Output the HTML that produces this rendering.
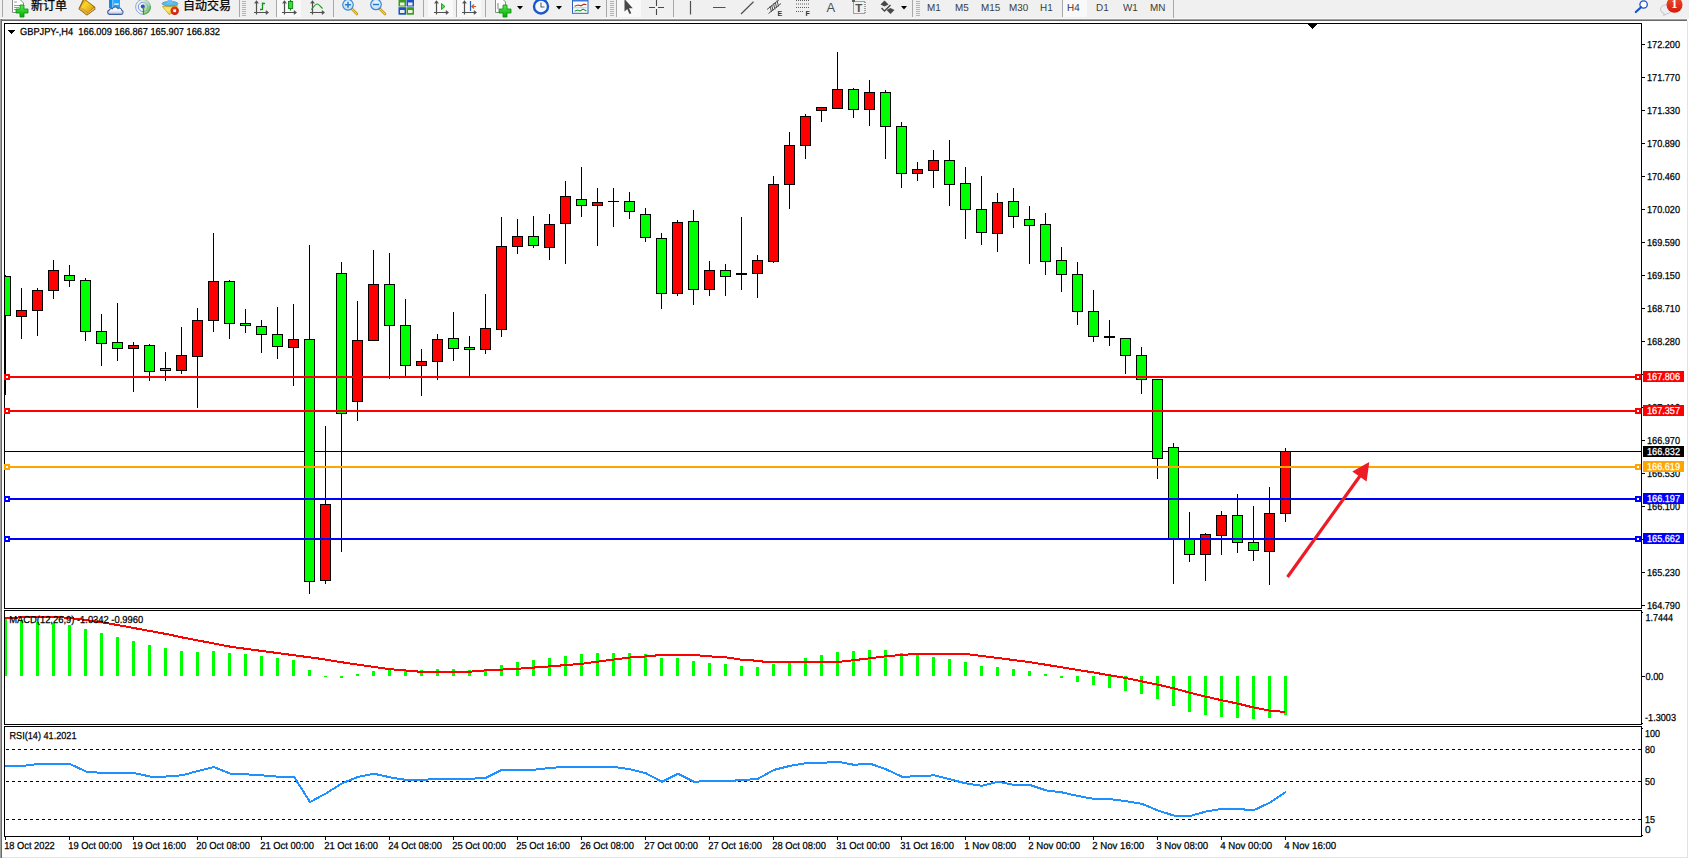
<!DOCTYPE html>
<html lang="zh-CN">
<head>
<meta charset="utf-8">
<title>GBPJPY-,H4</title>
<style>
html,body{margin:0;padding:0;background:#fff;}
body{width:1689px;height:859px;overflow:hidden;position:relative;font-family:"Liberation Sans","Noto Sans CJK SC",sans-serif;}
.chart{position:absolute;left:0;top:0;display:block;}
.tb{position:absolute;left:0;top:0;width:1689px;height:19px;background:#f0f0f0;overflow:hidden;}
.tbline{position:absolute;left:0;top:18px;width:1687px;height:3px;background:linear-gradient(#f8f8f8 0 1px,#a0a0a0 1px 2px,#696969 2px 3px);}
.lb{position:absolute;left:0;top:19px;width:2px;height:839px;background:linear-gradient(90deg,#a0a0a0 50%,#696969 50%);}
.rb{position:absolute;left:1687px;top:21px;width:1px;height:837px;background:#e3e3e3;}
.bb{position:absolute;left:2px;top:857px;width:1686px;height:1px;background:#e3e3e3;}
.tb .cj{position:absolute;top:-2.5px;font-size:12px;line-height:16px;color:#000;white-space:nowrap;-webkit-text-stroke:0.25px #000;}
.tb .tf{position:absolute;top:1.8px;font-size:10.2px;line-height:14px;color:#3c3c3c;white-space:nowrap;text-rendering:geometricPrecision;transform:scaleX(0.97);transform-origin:0 0;margin-left:-0.6px;}
.tb .sep{position:absolute;top:0;width:1px;height:17px;background:#a0a0a0;}
.tb .grip{position:absolute;top:0;width:4px;height:16px;background:repeating-linear-gradient(#f0f0f0 0 1px,#b0b0b0 1px 2px);}
.tb .sel{position:absolute;top:0;height:17px;background:#f8f8f8;}
.tb svg{position:absolute;left:0;top:0;}
</style>
</head>
<body>
<div class="tb">
<svg width="1689" height="19" viewBox="0 0 1689 19">
<defs>
<linearGradient id="gGold" x1="0" y1="0" x2="1" y2="1"><stop offset="0" stop-color="#c98e12"/><stop offset="0.350" stop-color="#f9d62c"/><stop offset="0.700" stop-color="#e8b216"/><stop offset="1" stop-color="#c48a10"/></linearGradient>
<linearGradient id="gGreen" x1="0" y1="0" x2="0" y2="1"><stop offset="0" stop-color="#4cf04c"/><stop offset="1" stop-color="#0aa80a"/></linearGradient>
<linearGradient id="gBlue" x1="0" y1="0" x2="0" y2="1"><stop offset="0" stop-color="#4aa0ff"/><stop offset="1" stop-color="#0a5ad8"/></linearGradient>
<linearGradient id="gRed" x1="0" y1="0" x2="0" y2="1"><stop offset="0" stop-color="#e85030"/><stop offset="1" stop-color="#d81808"/></linearGradient>
<radialGradient id="gLens" cx="0.5" cy="0.4" r="0.6"><stop offset="0" stop-color="#f4fbff"/><stop offset="1" stop-color="#b4d8f4"/></radialGradient>
<linearGradient id="gCloud" x1="0" y1="0" x2="0" y2="1"><stop offset="0" stop-color="#ffffff"/><stop offset="0.500" stop-color="#f0f3f9"/><stop offset="1" stop-color="#b4c0da"/></linearGradient>
<linearGradient id="gSig" x1="0" y1="0" x2="1" y2="1"><stop offset="0" stop-color="#e6efe0"/><stop offset="0.500" stop-color="#b4d8a8"/><stop offset="1" stop-color="#4aa850"/></linearGradient>
<linearGradient id="gFace" x1="0" y1="0" x2="0" y2="1"><stop offset="0" stop-color="#f4d030"/><stop offset="0.500" stop-color="#ffec70"/><stop offset="1" stop-color="#e8b820"/></linearGradient>
<radialGradient id="gStop" cx="0.400" cy="0.350" r="0.700"><stop offset="0" stop-color="#f04020"/><stop offset="1" stop-color="#c81c08"/></radialGradient>
</defs>
<!-- selected backgrounds -->
<g fill="#f9f9f9"><rect x="277" y="0" width="24" height="17"/><rect x="428" y="0" width="25" height="17"/><rect x="457" y="0" width="24" height="17"/><rect x="617" y="0" width="24" height="17"/><rect x="1063" y="0" width="24" height="17"/></g>
<!-- separators -->
<g fill="#a8a8a8"><rect x="2" y="0" width="1" height="17"/><rect x="239" y="0" width="1" height="17"/><rect x="276" y="0" width="1" height="17"/><rect x="333" y="0" width="1" height="17"/><rect x="423" y="0" width="1" height="17"/><rect x="456" y="0" width="1" height="17"/><rect x="485" y="0" width="1" height="17"/><rect x="606" y="0" width="1" height="17"/><rect x="616" y="0" width="1" height="17"/><rect x="673" y="0" width="1" height="17"/><rect x="912" y="0" width="1" height="17"/><rect x="1062" y="0" width="1" height="17"/><rect x="1173" y="0" width="1" height="18"/></g>
<!-- grips -->
<g fill="#b4b4b4">
<path d="M242 1h4v1h-4zM242 3h4v1h-4zM242 5h4v1h-4zM242 7h4v1h-4zM242 9h4v1h-4zM242 11h4v1h-4zM242 13h4v1h-4zM242 15h4v1h-4z"/>
<path d="M610 1h4v1h-4zM610 3h4v1h-4zM610 5h4v1h-4zM610 7h4v1h-4zM610 9h4v1h-4zM610 11h4v1h-4zM610 13h4v1h-4zM610 15h4v1h-4z"/>
<path d="M916 1h4v1h-4zM916 3h4v1h-4zM916 5h4v1h-4zM916 7h4v1h-4zM916 9h4v1h-4zM916 11h4v1h-4zM916 13h4v1h-4zM916 15h4v1h-4z"/>
</g>
<!-- new order -->
<path d="M12.5 -1V12.5H23.5V3L20.5 0V-1Z" fill="#fff" stroke="#8a8a8a"/>
<path d="M14 2h3M14 5.5h6M14 7.5h5M14 9.500h3" stroke="#9a9a9a" stroke-width="1"/>
<path d="M20 5h4v4h4v4h-4v4h-4v-4h-4v-4h4z" fill="url(#gGreen)" stroke="#0a8a0a" stroke-width="0.8"/>
<!-- book -->
<path d="M83.800 -1L94.600 7.300L94.900 9L86.800 14.900L79.100 8.700Z" fill="#b87c10" stroke="#96600a" stroke-width="1.200" stroke-linejoin="round"/>
<path d="M86.800 14.700L94.700 9L94.400 7.700L87.700 13Z" fill="#dccb88"/>
<path d="M79.300 8.700L86.800 14.700L87.700 13L80.500 7.300Z" fill="#e2b040"/>
<path d="M84.300 -0.500L93.900 6.900L87.900 12.500L80.700 7.200Z" fill="url(#gGold)"/>
<!-- cloud server -->
<path d="M109 -1H112.800V8H109Z" fill="#0a8cf0"/>
<path d="M112.800 -1H120V8H112.800Z" fill="#22a6ff"/>
<path d="M112.800 -1V8" stroke="#bfe4ff" stroke-width="0.700"/>
<rect x="114.200" y="3.400" width="4.600" height="1.400" fill="#e8f6ff"/>
<path d="M109.600 14.400a2.200 2.200 0 0 1 -0.400 -4.300a2.200 2.200 0 0 1 3.100 -1.300a3.100 3.100 0 0 1 5.600 -0.300a2.400 2.400 0 0 1 3.800 1.700a2.200 2.200 0 0 1 -0.500 4.200z" fill="url(#gCloud)" stroke="#3f5c9c" stroke-width="1.100"/>
<!-- signal -->
<circle cx="143" cy="6.900" r="7.600" fill="#f3f3ea"/>
<path d="M143 6.900L143 -0.700A7.600 7.600 0 0 1 143.400 14.500Z" fill="url(#gSig)"/>
<g fill="none">
<path d="M143 -0.500A7.400 7.400 0 0 0 143 14.300" stroke="#5a80dc" stroke-width="0.900" opacity="0.750"/>
<path d="M143 2.200A4.700 4.700 0 0 0 143 11.600" stroke="#5a80dc" stroke-width="1" opacity="0.800"/>
<path d="M143 -0.500A7.400 7.400 0 0 1 150.400 6.900" stroke="#7aa0c8" stroke-width="0.900" opacity="0.500"/>
<path d="M143 2.200A4.700 4.700 0 0 1 147.700 6.900A4.700 4.700 0 0 1 143.500 11.600" stroke="#6a9cb0" stroke-width="1" opacity="0.550"/>
<path d="M143.400 14.400A7.500 7.500 0 0 0 150.400 6" stroke="#2f9a3a" stroke-width="1.100" opacity="0.700"/>
</g>
<circle cx="142.800" cy="6.600" r="2" fill="#2454d4"/>
<path d="M143.500 7V14.600" stroke="#1fa01f" stroke-width="1.300"/>
<!-- hat / expert stop -->
<path d="M162.400 6.600L177.600 5.800L173 12L169.300 14.700Z" fill="url(#gFace)" stroke="#c89810" stroke-width="0.700"/>
<ellipse cx="170" cy="3.700" rx="7.900" ry="2.300" fill="#62b8ea" stroke="#2a8cbc" stroke-width="0.700"/><path d="M166.600 3.200C167.200 1.500 167.800 0 168.200 -1H171.600C172 0 172.600 1.500 173.200 3.200C171 4 168.800 4 166.600 3.200Z" fill="#6cc0ee"/>
<circle cx="174.700" cy="10.700" r="4.200" fill="url(#gStop)"/>
<rect x="173.300" y="9.300" width="2.800" height="2.800" fill="#fff"/>
<!-- bar chart icon -->
<g stroke="#505050" stroke-width="1.200" fill="none"><path d="M256.500 1.500V14.500M254 12.500H267.500"/><path d="M254.700 3.500L256.500 1.200L258.300 3.500M265.800 10.800L268 12.500L265.800 14.200"/></g>
<path d="M262.500 2.500V10M262.500 3.500H265M260 9.500H262.500" stroke="#18901c" stroke-width="1.300" fill="none"/>
<!-- candle chart icon -->
<g stroke="#505050" stroke-width="1.200" fill="none"><path d="M284.500 1.500V14.500M282 12.500H295.500"/><path d="M282.700 3.500L284.500 1.200L286.300 3.500M293.800 10.800L296 12.500L293.800 14.200"/></g>
<path d="M290.500 -1V10.500" stroke="#108414" stroke-width="1.200"/><rect x="288.500" y="1.500" width="4.200" height="7" fill="#30e040" stroke="#108414" stroke-width="0.900"/>
<!-- line chart icon -->
<g stroke="#505050" stroke-width="1.200" fill="none"><path d="M312.500 1.500V14.500M310 12.500H323.500"/><path d="M310.700 3.500L312.500 1.200L314.300 3.500M321.800 10.800L324 12.500L321.800 14.200"/></g>
<path d="M311.400 9.600C314 6 316 3.800 317.500 4S321 7.500 322.600 8.500" stroke="#209824" stroke-width="1.200" fill="none"/>
<!-- zoom in / out -->
<path d="M352 9L357 14" stroke="#c8a020" stroke-width="2.600" stroke-linecap="round"/><path d="M352 9L357 14" stroke="#f0d860" stroke-width="1" stroke-linecap="round"/>
<circle cx="348" cy="4.800" r="5.300" fill="url(#gLens)" stroke="#3a84d0" stroke-width="1.100"/>
<path d="M345 4.800H351M348 1.800V7.800" stroke="#2a78c8" stroke-width="1.500"/>
<path d="M380 9L385 14" stroke="#c8a020" stroke-width="2.600" stroke-linecap="round"/><path d="M380 9L385 14" stroke="#f0d860" stroke-width="1" stroke-linecap="round"/>
<circle cx="376" cy="4.500" r="5.300" fill="url(#gLens)" stroke="#3a84d0" stroke-width="1.100"/>
<path d="M373 4.500H379" stroke="#2a78c8" stroke-width="1.500"/>
<!-- tile windows -->
<rect x="398.500" y="-1" width="7.500" height="7.500" fill="#3c9c20"/><rect x="406.500" y="-1" width="7.500" height="7.500" fill="#1c50d0"/>
<rect x="398.500" y="7.200" width="7.500" height="7.500" fill="#1c50d0"/><rect x="406.500" y="7.200" width="7.500" height="7.500" fill="#3c9c20"/>
<g fill="#e8f4e0"><rect x="400" y="2.500" width="4.500" height="3"/><rect x="408" y="2.500" width="4.500" height="3"/><rect x="400" y="10" width="4.500" height="3"/><rect x="408" y="10" width="4.500" height="3"/></g>
<!-- autoscroll -->
<g stroke="#505050" stroke-width="1.200" fill="none"><path d="M436.500 1.500V14.500M434 12.500H447.500"/><path d="M434.700 3.500L436.500 1.200L438.300 3.500M445.800 10.800L448 12.500L445.800 14.200"/></g>
<path d="M441.500 3.500L445 6.500L441.500 9.500Z" fill="#50e050" stroke="#189820" stroke-width="0.900"/>
<!-- chart shift -->
<g stroke="#505050" stroke-width="1.200" fill="none"><path d="M464.500 1.500V14.500M462 12.500H475.500"/><path d="M462.700 3.500L464.500 1.200L466.300 3.500M473.800 10.800L476 12.500L473.800 14.200"/></g>
<path d="M470.500 1V11" stroke="#2060c0" stroke-width="1.200"/><path d="M476 6.500H472M474 4.500L471.800 6.500L474 8.500" stroke="#e05810" stroke-width="1.200" fill="none"/>
<!-- new indicator -->
<path d="M495.500 -1V12.500H505.500V2L503 -0.500Z" fill="#fff" stroke="#8a8a8a"/>
<path d="M498 3v6" stroke="#808080" stroke-width="1"/>
<path d="M503 5h4v4h4v4h-4v4h-4v-4h-4v-4h4z" fill="url(#gGreen)" stroke="#0a8a0a" stroke-width="0.800"/>
<!-- dropdown arrows -->
<g fill="#000"><path d="M517 6h6l-3 3.500z"/><path d="M556 6h6l-3 3.500z"/><path d="M595 6h6l-3 3.500z"/><path d="M901 6h6l-3 3.500z"/></g>
<!-- clock -->
<circle cx="541" cy="6.500" r="7" fill="#f4f8ff" stroke="#1c58c8" stroke-width="2.400"/>
<path d="M541 2.500V7H544.500" stroke="#606060" stroke-width="1.100" fill="none"/>
<!-- template -->
<rect x="572.500" y="-1" width="15.500" height="14.300" fill="#fff" stroke="#2860c8" stroke-width="1"/>
<rect x="572.500" y="-1" width="15.500" height="2.500" fill="#3c78d8"/>
<path d="M574.500 6.200L578 5L581 5.800L584 4.200L586.500 4.800" stroke="#b83020" stroke-width="1.100" fill="none"/>
<path d="M574.500 11.200L577.500 10L580 11L583 9.200L586.500 11" stroke="#209830" stroke-width="1.100" fill="none"/>
<path d="M573 7.800H588" stroke="#9cb8e8" stroke-width="0.800"/>
<!-- cursor -->
<path d="M624.500 -1V11.500L627.200 9L629.500 14L631.300 13.200L629 8.300H632.800Z" fill="#484848"/>
<!-- crosshair -->
<path d="M656.500 0V6M656.500 9V15M649 7.500H655M658 7.500H664" stroke="#484848" stroke-width="1.100"/>
<!-- line tools -->
<path d="M690.500 1V14.500M713 7.500H725.500" stroke="#505050" stroke-width="1.200"/>
<path d="M741 14L753.500 1.800" stroke="#505050" stroke-width="1.200"/>
<!-- channel -->
<g stroke="#505050" stroke-width="1" fill="none"><path d="M767 9.500L780 -1M768.500 13.500L781 3.500"/><path d="M770 6L771.500 12M773.500 3.500L775 9.500M777 0.500L778.500 6.500M771.700 5L773 10.700M775.200 2L776.700 8"/></g>
<!-- fibo -->
<g stroke="#606060" stroke-width="1" stroke-dasharray="1 1"><path d="M796 0.500H810M796 4H810M796 7.500H810M796 11.500H804"/></g>
<!-- T label box -->
<rect x="853.500" y="1.500" width="11.500" height="12" fill="none" stroke="#505050" stroke-width="1" stroke-dasharray="1 1"/>
<rect x="852" y="0" width="3" height="2" fill="#606060"/>
<!-- arrows icon -->
<g fill="#484848"><path d="M880.500 4.500L884.500 0.500L888.500 4.500L884.500 6.500Z"/><path d="M886.500 10L890.500 8L894.500 10L890.500 14Z"/><path d="M882 7.500L884.500 10L890 4.500L891 5.500L884.500 12L881 8.500Z"/></g>
<!-- search -->
<circle cx="1643.600" cy="4.500" r="3.700" fill="#fff" stroke="#1c50c8" stroke-width="1.300"/>
<path d="M1641 7.200L1635.800 12" stroke="#1c50c8" stroke-width="2.200" stroke-linecap="round"/>
<!-- bubble + badge -->
<path d="M1660.500 9.500a5.500 4.500 0 1 1 6.500 4.300l-3.400 1.700l0.600-2a5.500 4.500 0 0 1-3.700-4z" fill="#eceef4" stroke="#b8b8b8" stroke-width="0.800"/>
<circle cx="1674.500" cy="4.800" r="8" fill="url(#gRed)"/>
<text x="1671.300" y="8" font-family="'Liberation Serif', serif" font-weight="bold" font-size="12.500" fill="#fff">1</text>
<!-- letters in icons -->
<g font-family="'Liberation Sans', sans-serif" fill="#505050">
<text x="777.500" y="16" font-size="7" font-weight="bold" fill="#303030">E</text>
<text x="805.500" y="16" font-size="7" font-weight="bold" fill="#303030">F</text>
<text x="826.500" y="12" font-size="13">A</text>
<text x="855.300" y="12" font-size="11.500" font-weight="bold">T</text>
</g>
</svg>
<span class="cj" style="left:31px">新订单</span>
<span class="cj" style="left:183px">自动交易</span>
<span class="tf" style="left:927.5px">M1</span>
<span class="tf" style="left:955.5px">M5</span>
<span class="tf" style="left:981.5px">M15</span>
<span class="tf" style="left:1009.5px">M30</span>
<span class="tf" style="left:1040.5px">H1</span>
<span class="tf" style="left:1067.5px">H4</span>
<span class="tf" style="left:1096.5px">D1</span>
<span class="tf" style="left:1124px">W1</span>
<span class="tf" style="left:1150.5px">MN</span>

</div>
<div class="tbline"></div>
<div class="lb"></div>
<div class="rb"></div>
<div class="bb"></div>
<svg class="chart" width="1689" height="859" viewBox="0 0 1689 859" shape-rendering="crispEdges" font-family="'Liberation Sans', sans-serif" stroke-width="0.25" text-rendering="geometricPrecision">
<g fill="#000">
<rect x="4" y="23" width="1638" height="1" fill="#000"/>
<rect x="4" y="23" width="1" height="814" fill="#000"/>
<rect x="1641" y="23" width="1" height="814" fill="#000"/>
<rect x="4" y="608" width="1638" height="1" fill="#000"/>
<rect x="4" y="610" width="1638" height="1" fill="#000"/>
<rect x="4" y="724" width="1638" height="1" fill="#000"/>
<rect x="4" y="726" width="1638" height="1" fill="#000"/>
<rect x="4" y="836" width="1638" height="1" fill="#000"/>
</g>
<rect x="4" y="609" width="1639" height="1" fill="#fff"/>
<rect x="4" y="725" width="1639" height="1" fill="#fff"/>
<rect x="5" y="451" width="1636" height="1" fill="#000"/>
<g>
<rect x="5" y="275" width="1" height="120" fill="#000"/>
<rect x="5" y="276" width="6" height="40" fill="#000"/>
<rect x="5" y="277" width="5" height="38" fill="#00ff00"/>
<rect x="21" y="288" width="1" height="51" fill="#000"/>
<rect x="16" y="310" width="11" height="7" fill="#000"/>
<rect x="17" y="311" width="9" height="5" fill="#ff0000"/>
<rect x="37" y="288" width="1" height="48" fill="#000"/>
<rect x="32" y="290" width="11" height="21" fill="#000"/>
<rect x="33" y="291" width="9" height="19" fill="#ff0000"/>
<rect x="53" y="260" width="1" height="39" fill="#000"/>
<rect x="48" y="270" width="11" height="21" fill="#000"/>
<rect x="49" y="271" width="9" height="19" fill="#ff0000"/>
<rect x="69" y="265" width="1" height="22" fill="#000"/>
<rect x="64" y="275" width="11" height="6" fill="#000"/>
<rect x="65" y="276" width="9" height="4" fill="#00ff00"/>
<rect x="85" y="278" width="1" height="63" fill="#000"/>
<rect x="80" y="280" width="11" height="52" fill="#000"/>
<rect x="81" y="281" width="9" height="50" fill="#00ff00"/>
<rect x="101" y="314" width="1" height="52" fill="#000"/>
<rect x="96" y="331" width="11" height="13" fill="#000"/>
<rect x="97" y="332" width="9" height="11" fill="#00ff00"/>
<rect x="117" y="303" width="1" height="58" fill="#000"/>
<rect x="112" y="342" width="11" height="7" fill="#000"/>
<rect x="113" y="343" width="9" height="5" fill="#00ff00"/>
<rect x="133" y="342" width="1" height="50" fill="#000"/>
<rect x="128" y="345" width="11" height="4" fill="#000"/>
<rect x="129" y="346" width="9" height="2" fill="#ff0000"/>
<rect x="149" y="344" width="1" height="37" fill="#000"/>
<rect x="144" y="345" width="11" height="27" fill="#000"/>
<rect x="145" y="346" width="9" height="25" fill="#00ff00"/>
<rect x="165" y="352" width="1" height="29" fill="#000"/>
<rect x="160" y="368" width="11" height="3" fill="#000"/>
<rect x="161" y="369" width="9" height="1" fill="#00ff00"/>
<rect x="181" y="327" width="1" height="47" fill="#000"/>
<rect x="176" y="355" width="11" height="16" fill="#000"/>
<rect x="177" y="356" width="9" height="14" fill="#ff0000"/>
<rect x="197" y="308" width="1" height="100" fill="#000"/>
<rect x="192" y="320" width="11" height="37" fill="#000"/>
<rect x="193" y="321" width="9" height="35" fill="#ff0000"/>
<rect x="213" y="233" width="1" height="99" fill="#000"/>
<rect x="208" y="281" width="11" height="40" fill="#000"/>
<rect x="209" y="282" width="9" height="38" fill="#ff0000"/>
<rect x="229" y="280" width="1" height="59" fill="#000"/>
<rect x="224" y="281" width="11" height="43" fill="#000"/>
<rect x="225" y="282" width="9" height="41" fill="#00ff00"/>
<rect x="245" y="309" width="1" height="24" fill="#000"/>
<rect x="240" y="323" width="11" height="3" fill="#000"/>
<rect x="241" y="324" width="9" height="1" fill="#00ff00"/>
<rect x="261" y="320" width="1" height="33" fill="#000"/>
<rect x="256" y="326" width="11" height="9" fill="#000"/>
<rect x="257" y="327" width="9" height="7" fill="#00ff00"/>
<rect x="277" y="307" width="1" height="52" fill="#000"/>
<rect x="272" y="334" width="11" height="13" fill="#000"/>
<rect x="273" y="335" width="9" height="11" fill="#00ff00"/>
<rect x="293" y="304" width="1" height="82" fill="#000"/>
<rect x="288" y="339" width="11" height="9" fill="#000"/>
<rect x="289" y="340" width="9" height="7" fill="#ff0000"/>
<rect x="309" y="245" width="1" height="349" fill="#000"/>
<rect x="304" y="339" width="11" height="243" fill="#000"/>
<rect x="305" y="340" width="9" height="241" fill="#00ff00"/>
<rect x="325" y="426" width="1" height="158" fill="#000"/>
<rect x="320" y="504" width="11" height="77" fill="#000"/>
<rect x="321" y="505" width="9" height="75" fill="#ff0000"/>
<rect x="341" y="262" width="1" height="290" fill="#000"/>
<rect x="336" y="273" width="11" height="141" fill="#000"/>
<rect x="337" y="274" width="9" height="139" fill="#00ff00"/>
<rect x="357" y="301" width="1" height="120" fill="#000"/>
<rect x="352" y="340" width="11" height="62" fill="#000"/>
<rect x="353" y="341" width="9" height="60" fill="#ff0000"/>
<rect x="373" y="250" width="1" height="91" fill="#000"/>
<rect x="368" y="284" width="11" height="57" fill="#000"/>
<rect x="369" y="285" width="9" height="55" fill="#ff0000"/>
<rect x="389" y="253" width="1" height="126" fill="#000"/>
<rect x="384" y="284" width="11" height="42" fill="#000"/>
<rect x="385" y="285" width="9" height="40" fill="#00ff00"/>
<rect x="405" y="299" width="1" height="77" fill="#000"/>
<rect x="400" y="325" width="11" height="41" fill="#000"/>
<rect x="401" y="326" width="9" height="39" fill="#00ff00"/>
<rect x="421" y="349" width="1" height="47" fill="#000"/>
<rect x="416" y="361" width="11" height="5" fill="#000"/>
<rect x="417" y="362" width="9" height="3" fill="#ff0000"/>
<rect x="437" y="334" width="1" height="46" fill="#000"/>
<rect x="432" y="339" width="11" height="23" fill="#000"/>
<rect x="433" y="340" width="9" height="21" fill="#ff0000"/>
<rect x="453" y="312" width="1" height="49" fill="#000"/>
<rect x="448" y="338" width="11" height="11" fill="#000"/>
<rect x="449" y="339" width="9" height="9" fill="#00ff00"/>
<rect x="469" y="336" width="1" height="41" fill="#000"/>
<rect x="464" y="347" width="11" height="3" fill="#000"/>
<rect x="465" y="348" width="9" height="1" fill="#00ff00"/>
<rect x="485" y="294" width="1" height="60" fill="#000"/>
<rect x="480" y="328" width="11" height="22" fill="#000"/>
<rect x="481" y="329" width="9" height="20" fill="#ff0000"/>
<rect x="501" y="217" width="1" height="120" fill="#000"/>
<rect x="496" y="246" width="11" height="84" fill="#000"/>
<rect x="497" y="247" width="9" height="82" fill="#ff0000"/>
<rect x="517" y="219" width="1" height="35" fill="#000"/>
<rect x="512" y="236" width="11" height="11" fill="#000"/>
<rect x="513" y="237" width="9" height="9" fill="#ff0000"/>
<rect x="533" y="216" width="1" height="32" fill="#000"/>
<rect x="528" y="236" width="11" height="10" fill="#000"/>
<rect x="529" y="237" width="9" height="8" fill="#00ff00"/>
<rect x="549" y="214" width="1" height="46" fill="#000"/>
<rect x="544" y="224" width="11" height="24" fill="#000"/>
<rect x="545" y="225" width="9" height="22" fill="#ff0000"/>
<rect x="565" y="181" width="1" height="83" fill="#000"/>
<rect x="560" y="196" width="11" height="28" fill="#000"/>
<rect x="561" y="197" width="9" height="26" fill="#ff0000"/>
<rect x="581" y="167" width="1" height="50" fill="#000"/>
<rect x="576" y="199" width="11" height="7" fill="#000"/>
<rect x="577" y="200" width="9" height="5" fill="#00ff00"/>
<rect x="597" y="188" width="1" height="58" fill="#000"/>
<rect x="592" y="202" width="11" height="4" fill="#000"/>
<rect x="593" y="203" width="9" height="2" fill="#ff0000"/>
<rect x="613" y="188" width="1" height="39" fill="#000"/>
<rect x="608" y="201" width="11" height="1" fill="#000"/>
<rect x="629" y="192" width="1" height="27" fill="#000"/>
<rect x="624" y="201" width="11" height="11" fill="#000"/>
<rect x="625" y="202" width="9" height="9" fill="#00ff00"/>
<rect x="645" y="208" width="1" height="34" fill="#000"/>
<rect x="640" y="214" width="11" height="24" fill="#000"/>
<rect x="641" y="215" width="9" height="22" fill="#00ff00"/>
<rect x="661" y="233" width="1" height="76" fill="#000"/>
<rect x="656" y="238" width="11" height="56" fill="#000"/>
<rect x="657" y="239" width="9" height="54" fill="#00ff00"/>
<rect x="677" y="220" width="1" height="76" fill="#000"/>
<rect x="672" y="222" width="11" height="72" fill="#000"/>
<rect x="673" y="223" width="9" height="70" fill="#ff0000"/>
<rect x="693" y="210" width="1" height="95" fill="#000"/>
<rect x="688" y="221" width="11" height="69" fill="#000"/>
<rect x="689" y="222" width="9" height="67" fill="#00ff00"/>
<rect x="709" y="261" width="1" height="35" fill="#000"/>
<rect x="704" y="270" width="11" height="20" fill="#000"/>
<rect x="705" y="271" width="9" height="18" fill="#ff0000"/>
<rect x="725" y="264" width="1" height="32" fill="#000"/>
<rect x="720" y="270" width="11" height="7" fill="#000"/>
<rect x="721" y="271" width="9" height="5" fill="#00ff00"/>
<rect x="741" y="217" width="1" height="73" fill="#000"/>
<rect x="736" y="273" width="11" height="2" fill="#000"/>
<rect x="757" y="255" width="1" height="43" fill="#000"/>
<rect x="752" y="260" width="11" height="14" fill="#000"/>
<rect x="753" y="261" width="9" height="12" fill="#ff0000"/>
<rect x="773" y="176" width="1" height="87" fill="#000"/>
<rect x="768" y="184" width="11" height="78" fill="#000"/>
<rect x="769" y="185" width="9" height="76" fill="#ff0000"/>
<rect x="789" y="132" width="1" height="77" fill="#000"/>
<rect x="784" y="145" width="11" height="40" fill="#000"/>
<rect x="785" y="146" width="9" height="38" fill="#ff0000"/>
<rect x="805" y="114" width="1" height="45" fill="#000"/>
<rect x="800" y="116" width="11" height="30" fill="#000"/>
<rect x="801" y="117" width="9" height="28" fill="#ff0000"/>
<rect x="821" y="107" width="1" height="15" fill="#000"/>
<rect x="816" y="107" width="11" height="4" fill="#000"/>
<rect x="817" y="108" width="9" height="2" fill="#ff0000"/>
<rect x="837" y="52" width="1" height="57" fill="#000"/>
<rect x="832" y="89" width="11" height="20" fill="#000"/>
<rect x="833" y="90" width="9" height="18" fill="#ff0000"/>
<rect x="853" y="88" width="1" height="30" fill="#000"/>
<rect x="848" y="89" width="11" height="21" fill="#000"/>
<rect x="849" y="90" width="9" height="19" fill="#00ff00"/>
<rect x="869" y="80" width="1" height="46" fill="#000"/>
<rect x="864" y="92" width="11" height="18" fill="#000"/>
<rect x="865" y="93" width="9" height="16" fill="#ff0000"/>
<rect x="885" y="90" width="1" height="69" fill="#000"/>
<rect x="880" y="92" width="11" height="35" fill="#000"/>
<rect x="881" y="93" width="9" height="33" fill="#00ff00"/>
<rect x="901" y="122" width="1" height="66" fill="#000"/>
<rect x="896" y="126" width="11" height="48" fill="#000"/>
<rect x="897" y="127" width="9" height="46" fill="#00ff00"/>
<rect x="917" y="162" width="1" height="19" fill="#000"/>
<rect x="912" y="169" width="11" height="5" fill="#000"/>
<rect x="913" y="170" width="9" height="3" fill="#ff0000"/>
<rect x="933" y="150" width="1" height="38" fill="#000"/>
<rect x="928" y="160" width="11" height="11" fill="#000"/>
<rect x="929" y="161" width="9" height="9" fill="#ff0000"/>
<rect x="949" y="140" width="1" height="66" fill="#000"/>
<rect x="944" y="160" width="11" height="25" fill="#000"/>
<rect x="945" y="161" width="9" height="23" fill="#00ff00"/>
<rect x="965" y="167" width="1" height="72" fill="#000"/>
<rect x="960" y="183" width="11" height="27" fill="#000"/>
<rect x="961" y="184" width="9" height="25" fill="#00ff00"/>
<rect x="981" y="176" width="1" height="69" fill="#000"/>
<rect x="976" y="209" width="11" height="24" fill="#000"/>
<rect x="977" y="210" width="9" height="22" fill="#00ff00"/>
<rect x="997" y="193" width="1" height="59" fill="#000"/>
<rect x="992" y="202" width="11" height="32" fill="#000"/>
<rect x="993" y="203" width="9" height="30" fill="#ff0000"/>
<rect x="1013" y="188" width="1" height="40" fill="#000"/>
<rect x="1008" y="201" width="11" height="16" fill="#000"/>
<rect x="1009" y="202" width="9" height="14" fill="#00ff00"/>
<rect x="1029" y="206" width="1" height="58" fill="#000"/>
<rect x="1024" y="219" width="11" height="7" fill="#000"/>
<rect x="1025" y="220" width="9" height="5" fill="#00ff00"/>
<rect x="1045" y="213" width="1" height="62" fill="#000"/>
<rect x="1040" y="224" width="11" height="38" fill="#000"/>
<rect x="1041" y="225" width="9" height="36" fill="#00ff00"/>
<rect x="1061" y="247" width="1" height="45" fill="#000"/>
<rect x="1056" y="260" width="11" height="15" fill="#000"/>
<rect x="1057" y="261" width="9" height="13" fill="#00ff00"/>
<rect x="1077" y="262" width="1" height="63" fill="#000"/>
<rect x="1072" y="274" width="11" height="38" fill="#000"/>
<rect x="1073" y="275" width="9" height="36" fill="#00ff00"/>
<rect x="1093" y="290" width="1" height="52" fill="#000"/>
<rect x="1088" y="311" width="11" height="26" fill="#000"/>
<rect x="1089" y="312" width="9" height="24" fill="#00ff00"/>
<rect x="1109" y="320" width="1" height="26" fill="#000"/>
<rect x="1104" y="336" width="11" height="2" fill="#000"/>
<rect x="1125" y="338" width="1" height="36" fill="#000"/>
<rect x="1120" y="338" width="11" height="18" fill="#000"/>
<rect x="1121" y="339" width="9" height="16" fill="#00ff00"/>
<rect x="1141" y="347" width="1" height="47" fill="#000"/>
<rect x="1136" y="355" width="11" height="25" fill="#000"/>
<rect x="1137" y="356" width="9" height="23" fill="#00ff00"/>
<rect x="1157" y="379" width="1" height="100" fill="#000"/>
<rect x="1152" y="379" width="11" height="80" fill="#000"/>
<rect x="1153" y="380" width="9" height="78" fill="#00ff00"/>
<rect x="1173" y="443" width="1" height="141" fill="#000"/>
<rect x="1168" y="447" width="11" height="92" fill="#000"/>
<rect x="1169" y="448" width="9" height="90" fill="#00ff00"/>
<rect x="1189" y="512" width="1" height="50" fill="#000"/>
<rect x="1184" y="538" width="11" height="17" fill="#000"/>
<rect x="1185" y="539" width="9" height="15" fill="#00ff00"/>
<rect x="1205" y="533" width="1" height="48" fill="#000"/>
<rect x="1200" y="534" width="11" height="21" fill="#000"/>
<rect x="1201" y="535" width="9" height="19" fill="#ff0000"/>
<rect x="1221" y="511" width="1" height="44" fill="#000"/>
<rect x="1216" y="515" width="11" height="21" fill="#000"/>
<rect x="1217" y="516" width="9" height="19" fill="#ff0000"/>
<rect x="1237" y="494" width="1" height="59" fill="#000"/>
<rect x="1232" y="515" width="11" height="28" fill="#000"/>
<rect x="1233" y="516" width="9" height="26" fill="#00ff00"/>
<rect x="1253" y="506" width="1" height="55" fill="#000"/>
<rect x="1248" y="542" width="11" height="9" fill="#000"/>
<rect x="1249" y="543" width="9" height="7" fill="#00ff00"/>
<rect x="1269" y="487" width="1" height="98" fill="#000"/>
<rect x="1264" y="513" width="11" height="39" fill="#000"/>
<rect x="1265" y="514" width="9" height="37" fill="#ff0000"/>
<rect x="1285" y="448" width="1" height="74" fill="#000"/>
<rect x="1280" y="451" width="11" height="63" fill="#000"/>
<rect x="1281" y="452" width="9" height="61" fill="#ff0000"/>
</g>
<rect x="5" y="376" width="1636" height="2" fill="#ff0000"/>
<rect x="4" y="374" width="6" height="6" fill="#ff0000"/>
<rect x="6" y="376" width="2" height="2" fill="#fff"/>
<rect x="1635" y="374" width="6" height="6" fill="#ff0000"/>
<rect x="1637" y="376" width="2" height="2" fill="#fff"/>
<rect x="5" y="410" width="1636" height="2" fill="#ff0000"/>
<rect x="4" y="408" width="6" height="6" fill="#ff0000"/>
<rect x="6" y="410" width="2" height="2" fill="#fff"/>
<rect x="1635" y="408" width="6" height="6" fill="#ff0000"/>
<rect x="1637" y="410" width="2" height="2" fill="#fff"/>
<rect x="5" y="466" width="1636" height="2" fill="#ffa500"/>
<rect x="4" y="464" width="6" height="6" fill="#ffa500"/>
<rect x="6" y="466" width="2" height="2" fill="#fff"/>
<rect x="1635" y="464" width="6" height="6" fill="#ffa500"/>
<rect x="1637" y="466" width="2" height="2" fill="#fff"/>
<rect x="5" y="498" width="1636" height="2" fill="#0000ff"/>
<rect x="4" y="496" width="6" height="6" fill="#0000ff"/>
<rect x="6" y="498" width="2" height="2" fill="#fff"/>
<rect x="1635" y="496" width="6" height="6" fill="#0000ff"/>
<rect x="1637" y="498" width="2" height="2" fill="#fff"/>
<rect x="5" y="538" width="1636" height="2" fill="#0000ff"/>
<rect x="4" y="536" width="6" height="6" fill="#0000ff"/>
<rect x="6" y="538" width="2" height="2" fill="#fff"/>
<rect x="1635" y="536" width="6" height="6" fill="#0000ff"/>
<rect x="1637" y="538" width="2" height="2" fill="#fff"/>
<rect x="1642" y="44" width="3" height="1" fill="#000"/>
<text x="1647" y="48" fill="#000" stroke="#000" font-size="10.17" textLength="33" lengthAdjust="spacingAndGlyphs">172.200</text>
<rect x="1642" y="77" width="3" height="1" fill="#000"/>
<text x="1647" y="81" fill="#000" stroke="#000" font-size="10.17" textLength="33" lengthAdjust="spacingAndGlyphs">171.770</text>
<rect x="1642" y="110" width="3" height="1" fill="#000"/>
<text x="1647" y="114" fill="#000" stroke="#000" font-size="10.17" textLength="33" lengthAdjust="spacingAndGlyphs">171.330</text>
<rect x="1642" y="143" width="3" height="1" fill="#000"/>
<text x="1647" y="147" fill="#000" stroke="#000" font-size="10.17" textLength="33" lengthAdjust="spacingAndGlyphs">170.890</text>
<rect x="1642" y="176" width="3" height="1" fill="#000"/>
<text x="1647" y="180" fill="#000" stroke="#000" font-size="10.17" textLength="33" lengthAdjust="spacingAndGlyphs">170.460</text>
<rect x="1642" y="209" width="3" height="1" fill="#000"/>
<text x="1647" y="213" fill="#000" stroke="#000" font-size="10.17" textLength="33" lengthAdjust="spacingAndGlyphs">170.020</text>
<rect x="1642" y="242" width="3" height="1" fill="#000"/>
<text x="1647" y="246" fill="#000" stroke="#000" font-size="10.17" textLength="33" lengthAdjust="spacingAndGlyphs">169.590</text>
<rect x="1642" y="275" width="3" height="1" fill="#000"/>
<text x="1647" y="279" fill="#000" stroke="#000" font-size="10.17" textLength="33" lengthAdjust="spacingAndGlyphs">169.150</text>
<rect x="1642" y="308" width="3" height="1" fill="#000"/>
<text x="1647" y="312" fill="#000" stroke="#000" font-size="10.17" textLength="33" lengthAdjust="spacingAndGlyphs">168.710</text>
<rect x="1642" y="341" width="3" height="1" fill="#000"/>
<text x="1647" y="345" fill="#000" stroke="#000" font-size="10.17" textLength="33" lengthAdjust="spacingAndGlyphs">168.280</text>
<rect x="1642" y="374" width="3" height="1" fill="#000"/>
<rect x="1642" y="407" width="3" height="1" fill="#000"/>
<text x="1647" y="411" fill="#000" stroke="#000" font-size="10.17" textLength="33" lengthAdjust="spacingAndGlyphs">167.410</text>
<rect x="1642" y="440" width="3" height="1" fill="#000"/>
<text x="1647" y="444" fill="#000" stroke="#000" font-size="10.17" textLength="33" lengthAdjust="spacingAndGlyphs">166.970</text>
<rect x="1642" y="473" width="3" height="1" fill="#000"/>
<text x="1647" y="477" fill="#000" stroke="#000" font-size="10.17" textLength="33" lengthAdjust="spacingAndGlyphs">166.530</text>
<rect x="1642" y="506" width="3" height="1" fill="#000"/>
<text x="1647" y="510" fill="#000" stroke="#000" font-size="10.17" textLength="33" lengthAdjust="spacingAndGlyphs">166.100</text>
<rect x="1642" y="539" width="3" height="1" fill="#000"/>
<rect x="1642" y="572" width="3" height="1" fill="#000"/>
<text x="1647" y="576" fill="#000" stroke="#000" font-size="10.17" textLength="33" lengthAdjust="spacingAndGlyphs">165.230</text>
<rect x="1642" y="605" width="3" height="1" fill="#000"/>
<text x="1647" y="609" fill="#000" stroke="#000" font-size="10.17" textLength="33" lengthAdjust="spacingAndGlyphs">164.790</text>
<rect x="1643" y="371" width="41" height="11" fill="#ff0000"/>
<text x="1647" y="380" fill="#fff" stroke="#fff" font-size="10.17" textLength="33" lengthAdjust="spacingAndGlyphs">167.806</text>
<rect x="1643" y="405" width="41" height="11" fill="#ff0000"/>
<text x="1647" y="414" fill="#fff" stroke="#fff" font-size="10.17" textLength="33" lengthAdjust="spacingAndGlyphs">167.357</text>
<rect x="1643" y="461" width="41" height="11" fill="#ffa500"/>
<text x="1647" y="470" fill="#fff" stroke="#fff" font-size="10.17" textLength="33" lengthAdjust="spacingAndGlyphs">166.619</text>
<rect x="1643" y="493" width="41" height="11" fill="#0000ff"/>
<text x="1647" y="502" fill="#fff" stroke="#fff" font-size="10.17" textLength="33" lengthAdjust="spacingAndGlyphs">166.197</text>
<rect x="1643" y="533" width="41" height="11" fill="#0000ff"/>
<text x="1647" y="542" fill="#fff" stroke="#fff" font-size="10.17" textLength="33" lengthAdjust="spacingAndGlyphs">165.662</text>
<rect x="1643" y="446" width="41" height="11" fill="#000"/>
<text x="1647" y="455" fill="#fff" stroke="#fff" font-size="10.17" textLength="33" lengthAdjust="spacingAndGlyphs">166.832</text>
<path d="M1308 24h9v1h-1v1h-1v1h-1v1h-1v1h-1v-1h-1v-1h-1v-1h-1v-1h-1z" fill="#000"/>
<path d="M8 30h7v1h-1v1h-1v1h-1v1h-1v-1h-1v-1h-1v-1h-1z" fill="#000"/>
<text x="20" y="35" fill="#000" stroke="#000" font-size="10.17" textLength="200" lengthAdjust="spacingAndGlyphs" xml:space="preserve">GBPJPY-,H4&#160;&#160;166.009 166.867 165.907 166.832</text>
<g fill="#00ff00">
<rect x="5" y="619" width="2" height="57"/>
<rect x="20" y="620" width="3" height="56"/>
<rect x="36" y="622" width="3" height="54"/>
<rect x="52" y="623" width="3" height="53"/>
<rect x="68" y="625" width="3" height="51"/>
<rect x="84" y="629" width="3" height="47"/>
<rect x="100" y="633" width="3" height="43"/>
<rect x="116" y="637" width="3" height="39"/>
<rect x="132" y="641" width="3" height="35"/>
<rect x="148" y="645" width="3" height="31"/>
<rect x="164" y="648" width="3" height="28"/>
<rect x="180" y="651" width="3" height="25"/>
<rect x="196" y="652" width="3" height="24"/>
<rect x="212" y="651" width="3" height="25"/>
<rect x="228" y="653" width="3" height="23"/>
<rect x="244" y="654" width="3" height="22"/>
<rect x="260" y="656" width="3" height="20"/>
<rect x="276" y="658" width="3" height="18"/>
<rect x="292" y="660" width="3" height="16"/>
<rect x="308" y="670" width="3" height="6"/>
<rect x="324" y="676" width="3" height="1"/>
<rect x="340" y="676" width="3" height="2"/>
<rect x="356" y="674" width="3" height="2"/>
<rect x="372" y="671" width="3" height="5"/>
<rect x="388" y="669" width="3" height="7"/>
<rect x="404" y="670" width="3" height="6"/>
<rect x="420" y="670" width="3" height="6"/>
<rect x="436" y="669" width="3" height="7"/>
<rect x="452" y="669" width="3" height="7"/>
<rect x="468" y="670" width="3" height="6"/>
<rect x="484" y="669" width="3" height="7"/>
<rect x="500" y="665" width="3" height="11"/>
<rect x="516" y="662" width="3" height="14"/>
<rect x="532" y="660" width="3" height="16"/>
<rect x="548" y="658" width="3" height="18"/>
<rect x="564" y="656" width="3" height="20"/>
<rect x="580" y="654" width="3" height="22"/>
<rect x="596" y="653" width="3" height="23"/>
<rect x="612" y="653" width="3" height="23"/>
<rect x="628" y="653" width="3" height="23"/>
<rect x="644" y="654" width="3" height="22"/>
<rect x="660" y="658" width="3" height="18"/>
<rect x="676" y="658" width="3" height="18"/>
<rect x="692" y="661" width="3" height="15"/>
<rect x="708" y="663" width="3" height="13"/>
<rect x="724" y="664" width="3" height="12"/>
<rect x="740" y="666" width="3" height="10"/>
<rect x="756" y="667" width="3" height="9"/>
<rect x="772" y="664" width="3" height="12"/>
<rect x="788" y="662" width="3" height="14"/>
<rect x="804" y="658" width="3" height="18"/>
<rect x="820" y="655" width="3" height="21"/>
<rect x="836" y="652" width="3" height="24"/>
<rect x="852" y="651" width="3" height="25"/>
<rect x="868" y="650" width="3" height="26"/>
<rect x="884" y="650" width="3" height="26"/>
<rect x="900" y="653" width="3" height="23"/>
<rect x="916" y="655" width="3" height="21"/>
<rect x="932" y="657" width="3" height="19"/>
<rect x="948" y="659" width="3" height="17"/>
<rect x="964" y="662" width="3" height="14"/>
<rect x="980" y="666" width="3" height="10"/>
<rect x="996" y="667" width="3" height="9"/>
<rect x="1012" y="669" width="3" height="7"/>
<rect x="1028" y="671" width="3" height="5"/>
<rect x="1044" y="674" width="3" height="2"/>
<rect x="1060" y="676" width="3" height="2"/>
<rect x="1076" y="676" width="3" height="6"/>
<rect x="1092" y="676" width="3" height="9"/>
<rect x="1108" y="676" width="3" height="12"/>
<rect x="1124" y="676" width="3" height="15"/>
<rect x="1140" y="676" width="3" height="18"/>
<rect x="1156" y="676" width="3" height="23"/>
<rect x="1172" y="676" width="3" height="30"/>
<rect x="1188" y="676" width="3" height="36"/>
<rect x="1204" y="676" width="3" height="39"/>
<rect x="1220" y="676" width="3" height="41"/>
<rect x="1236" y="676" width="3" height="42"/>
<rect x="1252" y="676" width="3" height="43"/>
<rect x="1268" y="676" width="3" height="42"/>
<rect x="1284" y="676" width="3" height="39"/>
</g>
<polyline points="5,618.3 23,617.2 54,616.8 70.5,618 100.7,622.1 120.8,625.6 170,634.7 181,637.2 231.5,646.9 320,658.7 340,662 388,669 421,671.8 469,671.8 485,670.4 517,668.8 549.5,666.4 581.7,663.8 614,659.5 630,657.5 645,656.5 662,654.9 693,654.9 709,656.3 725.5,657.3 741.6,659.7 757.8,660.8 765.8,662 837,662 853,660.3 869.5,658.3 885.6,656.3 901.7,654.9 917.8,653.9 965,653.9 980,655.7 1029,662 1093,672.4 1125,677.9 1157,684.5 1173,688.1 1189.5,692.6 1205.6,696.6 1221.7,700.2 1237.8,703.6 1254,707.6 1270,710.7 1285,711.9" fill="none" stroke="#ff0000" stroke-width="2"/>
<text x="9.2" y="623" fill="#000" stroke="#000" font-size="10.17" textLength="134" lengthAdjust="spacingAndGlyphs">MACD(12,26,9) -1.0342 -0.9960</text>
<rect x="1642" y="612" width="1" height="1" fill="#000"/>
<text x="1645.5" y="621" fill="#000" stroke="#000" font-size="10.17" textLength="27.5" lengthAdjust="spacingAndGlyphs">1.7444</text>
<rect x="1642" y="676" width="3" height="1" fill="#000"/>
<text x="1645.5" y="680" fill="#000" stroke="#000" font-size="10.17" textLength="18" lengthAdjust="spacingAndGlyphs">0.00</text>
<rect x="1642" y="723" width="1" height="1" fill="#000"/>
<text x="1645" y="721" fill="#000" stroke="#000" font-size="10.17" textLength="31" lengthAdjust="spacingAndGlyphs">-1.3003</text>
<path d="M6 749.5H1641" stroke="#000" stroke-width="1" stroke-dasharray="3 3" fill="none"/>
<path d="M6 781.5H1641" stroke="#000" stroke-width="1" stroke-dasharray="3 3" fill="none"/>
<path d="M6 819.5H1641" stroke="#000" stroke-width="1" stroke-dasharray="3 3" fill="none"/>
<polyline points="5,766 22,766 38,764 54,764 70,764 86,771.5 102,773 118,773 134,773 150,776.5 166,776.5 182,775.3 198,771 214,767 230,773.5 246,774.3 262,775.3 278,776.7 294,776.7 310,802 326,793.4 342,783.4 358,776.9 374,773.7 390,777.3 406,779.9 422,779.9 438,778.9 454,778.9 470,778.9 486,777.7 502,769.7 518,769.7 534,769.7 550,767.9 566,766.9 582,766.9 598,766.9 614,766.9 630,769.3 646,773.3 662,781.8 678,773.7 694,781.8 710,780.8 726,780.8 742,780.3 758,778.7 774,769.9 790,765.9 806,763.2 822,762.8 838,761.8 854,764.8 870,763.6 886,769.3 902,776.7 918,776.3 934,775.3 950,779.3 966,783.4 982,785.8 998,781.8 1014,784.8 1030,785 1046,790.4 1062,792.4 1078,796 1094,798.9 1110,799.1 1126,801.1 1142,803.9 1158,810.5 1174,815.6 1190,816 1206,811.5 1222,808.9 1238,809.1 1254,810.1 1270,802.5 1286,791.8" fill="none" stroke="#1e90ff" stroke-width="2"/>
<text x="9.5" y="739" fill="#000" stroke="#000" font-size="10.17" textLength="67" lengthAdjust="spacingAndGlyphs">RSI(14) 41.2021</text>
<rect x="1642" y="728" width="1" height="1" fill="#000"/>
<text x="1645" y="737" fill="#000" stroke="#000" font-size="10.17" textLength="15" lengthAdjust="spacingAndGlyphs">100</text>
<text x="1645" y="753" fill="#000" stroke="#000" font-size="10.17" textLength="10" lengthAdjust="spacingAndGlyphs">80</text>
<text x="1645" y="785" fill="#000" stroke="#000" font-size="10.17" textLength="10" lengthAdjust="spacingAndGlyphs">50</text>
<text x="1645" y="823" fill="#000" stroke="#000" font-size="10.17" textLength="10" lengthAdjust="spacingAndGlyphs">15</text>
<text x="1645" y="833" fill="#000" stroke="#000" font-size="10.17">0</text>
<rect x="1642" y="835" width="1" height="1" fill="#000"/>
<rect x="5" y="837" width="1" height="3" fill="#000"/>
<text x="4.2" y="849" fill="#000" stroke="#000" font-size="10.17" textLength="50.6" lengthAdjust="spacingAndGlyphs">18 Oct 2022</text>
<rect x="69" y="837" width="1" height="3" fill="#000"/>
<text x="68.2" y="849" fill="#000" stroke="#000" font-size="10.17" textLength="53.8" lengthAdjust="spacingAndGlyphs">19 Oct 00:00</text>
<rect x="133" y="837" width="1" height="3" fill="#000"/>
<text x="132.2" y="849" fill="#000" stroke="#000" font-size="10.17" textLength="53.8" lengthAdjust="spacingAndGlyphs">19 Oct 16:00</text>
<rect x="197" y="837" width="1" height="3" fill="#000"/>
<text x="196.2" y="849" fill="#000" stroke="#000" font-size="10.17" textLength="53.8" lengthAdjust="spacingAndGlyphs">20 Oct 08:00</text>
<rect x="261" y="837" width="1" height="3" fill="#000"/>
<text x="260.2" y="849" fill="#000" stroke="#000" font-size="10.17" textLength="53.8" lengthAdjust="spacingAndGlyphs">21 Oct 00:00</text>
<rect x="325" y="837" width="1" height="3" fill="#000"/>
<text x="324.2" y="849" fill="#000" stroke="#000" font-size="10.17" textLength="53.8" lengthAdjust="spacingAndGlyphs">21 Oct 16:00</text>
<rect x="389" y="837" width="1" height="3" fill="#000"/>
<text x="388.2" y="849" fill="#000" stroke="#000" font-size="10.17" textLength="53.8" lengthAdjust="spacingAndGlyphs">24 Oct 08:00</text>
<rect x="453" y="837" width="1" height="3" fill="#000"/>
<text x="452.2" y="849" fill="#000" stroke="#000" font-size="10.17" textLength="53.8" lengthAdjust="spacingAndGlyphs">25 Oct 00:00</text>
<rect x="517" y="837" width="1" height="3" fill="#000"/>
<text x="516.2" y="849" fill="#000" stroke="#000" font-size="10.17" textLength="53.8" lengthAdjust="spacingAndGlyphs">25 Oct 16:00</text>
<rect x="581" y="837" width="1" height="3" fill="#000"/>
<text x="580.2" y="849" fill="#000" stroke="#000" font-size="10.17" textLength="53.8" lengthAdjust="spacingAndGlyphs">26 Oct 08:00</text>
<rect x="645" y="837" width="1" height="3" fill="#000"/>
<text x="644.2" y="849" fill="#000" stroke="#000" font-size="10.17" textLength="53.8" lengthAdjust="spacingAndGlyphs">27 Oct 00:00</text>
<rect x="709" y="837" width="1" height="3" fill="#000"/>
<text x="708.2" y="849" fill="#000" stroke="#000" font-size="10.17" textLength="53.8" lengthAdjust="spacingAndGlyphs">27 Oct 16:00</text>
<rect x="773" y="837" width="1" height="3" fill="#000"/>
<text x="772.2" y="849" fill="#000" stroke="#000" font-size="10.17" textLength="53.8" lengthAdjust="spacingAndGlyphs">28 Oct 08:00</text>
<rect x="837" y="837" width="1" height="3" fill="#000"/>
<text x="836.2" y="849" fill="#000" stroke="#000" font-size="10.17" textLength="53.8" lengthAdjust="spacingAndGlyphs">31 Oct 00:00</text>
<rect x="901" y="837" width="1" height="3" fill="#000"/>
<text x="900.2" y="849" fill="#000" stroke="#000" font-size="10.17" textLength="53.8" lengthAdjust="spacingAndGlyphs">31 Oct 16:00</text>
<rect x="965" y="837" width="1" height="3" fill="#000"/>
<text x="964.2" y="849" fill="#000" stroke="#000" font-size="10.17" textLength="52" lengthAdjust="spacingAndGlyphs">1 Nov 08:00</text>
<rect x="1029" y="837" width="1" height="3" fill="#000"/>
<text x="1028.2" y="849" fill="#000" stroke="#000" font-size="10.17" textLength="52" lengthAdjust="spacingAndGlyphs">2 Nov 00:00</text>
<rect x="1093" y="837" width="1" height="3" fill="#000"/>
<text x="1092.2" y="849" fill="#000" stroke="#000" font-size="10.17" textLength="52" lengthAdjust="spacingAndGlyphs">2 Nov 16:00</text>
<rect x="1157" y="837" width="1" height="3" fill="#000"/>
<text x="1156.2" y="849" fill="#000" stroke="#000" font-size="10.17" textLength="52" lengthAdjust="spacingAndGlyphs">3 Nov 08:00</text>
<rect x="1221" y="837" width="1" height="3" fill="#000"/>
<text x="1220.2" y="849" fill="#000" stroke="#000" font-size="10.17" textLength="52" lengthAdjust="spacingAndGlyphs">4 Nov 00:00</text>
<rect x="1285" y="837" width="1" height="3" fill="#000"/>
<text x="1284.2" y="849" fill="#000" stroke="#000" font-size="10.17" textLength="52" lengthAdjust="spacingAndGlyphs">4 Nov 16:00</text>
<g shape-rendering="auto"><line x1="1287.5" y1="577" x2="1361" y2="474.5" stroke="#ed1c24" stroke-width="3.2"/><polygon points="1369.3,462 1352.3,471.4 1366.6,481.6" fill="#ed1c24"/></g>
</svg>
</body>
</html>
